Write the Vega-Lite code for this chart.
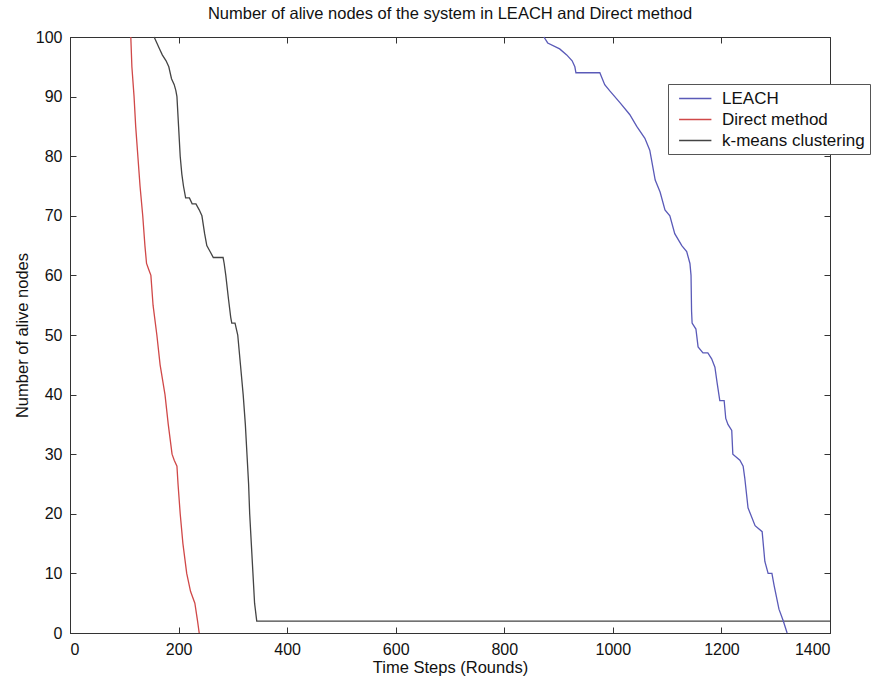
{
  "$schema": "https://vega.github.io/schema/vega-lite/v6.json",
  "width": 760,
  "height": 596,
  "autosize": "none",
  "padding": {"left": 70, "top": 37, "right": 46, "bottom": 48},
  "background": "white",
  "config": {
    "font": "Liberation Sans",
    "view": {"stroke": "#333", "strokeWidth": 1},
    "axis": {"grid": false, "domainColor": "#333", "tickColor": "#333", "labelColor": "#111", "titleColor": "#111", "labelFontSize": 16, "titleFontSize": 16.5, "titleFontWeight": "normal", "tickSize": -6, "labelFont": "Liberation Sans", "titleFont": "Liberation Sans", "format": "d"}
  },
  "title": {"text": "Number of alive nodes of the system in LEACH and Direct method", "fontSize": 16.5, "fontWeight": "normal", "font": "Liberation Sans", "color": "#111", "offset": 7, "anchor": "middle"},
  "data": {"values": [
    {"s":"Direct method","i":0,"x":112,"y":100},{"s":"Direct method","i":1,"x":114,"y":95},{"s":"Direct method","i":2,"x":118,"y":90},{"s":"Direct method","i":3,"x":121,"y":85},{"s":"Direct method","i":4,"x":125,"y":80},{"s":"Direct method","i":5,"x":129,"y":75},{"s":"Direct method","i":6,"x":134,"y":70},{"s":"Direct method","i":7,"x":138,"y":65},{"s":"Direct method","i":8,"x":141,"y":62},{"s":"Direct method","i":9,"x":145,"y":61},{"s":"Direct method","i":10,"x":149,"y":60},{"s":"Direct method","i":11,"x":153,"y":55},{"s":"Direct method","i":12,"x":160,"y":50},{"s":"Direct method","i":13,"x":166,"y":45},{"s":"Direct method","i":14,"x":175,"y":40},{"s":"Direct method","i":15,"x":181,"y":35},{"s":"Direct method","i":16,"x":188,"y":30},{"s":"Direct method","i":17,"x":192,"y":29},{"s":"Direct method","i":18,"x":197,"y":28},{"s":"Direct method","i":19,"x":199,"y":25},{"s":"Direct method","i":20,"x":203,"y":20},{"s":"Direct method","i":21,"x":208,"y":15},{"s":"Direct method","i":22,"x":215,"y":10},{"s":"Direct method","i":23,"x":222,"y":7},{"s":"Direct method","i":24,"x":230,"y":5},{"s":"Direct method","i":25,"x":235,"y":2},{"s":"Direct method","i":26,"x":238,"y":0},
    {"s":"k-means clustering","i":0,"x":155,"y":100},{"s":"k-means clustering","i":1,"x":160,"y":99},{"s":"k-means clustering","i":2,"x":165,"y":98},{"s":"k-means clustering","i":3,"x":170,"y":97},{"s":"k-means clustering","i":4,"x":177,"y":96},{"s":"k-means clustering","i":5,"x":182,"y":95},{"s":"k-means clustering","i":6,"x":187,"y":93},{"s":"k-means clustering","i":7,"x":192,"y":92},{"s":"k-means clustering","i":8,"x":195,"y":91},{"s":"k-means clustering","i":9,"x":197,"y":90},{"s":"k-means clustering","i":10,"x":200,"y":85},{"s":"k-means clustering","i":11,"x":203,"y":80},{"s":"k-means clustering","i":12,"x":206,"y":77},{"s":"k-means clustering","i":13,"x":209,"y":75},{"s":"k-means clustering","i":14,"x":213,"y":73},{"s":"k-means clustering","i":15,"x":220,"y":73},{"s":"k-means clustering","i":16,"x":225,"y":72},{"s":"k-means clustering","i":17,"x":232,"y":72},{"s":"k-means clustering","i":18,"x":238,"y":71},{"s":"k-means clustering","i":19,"x":243,"y":70},{"s":"k-means clustering","i":20,"x":248,"y":67},{"s":"k-means clustering","i":21,"x":252,"y":65},{"s":"k-means clustering","i":22,"x":258,"y":64},{"s":"k-means clustering","i":23,"x":264,"y":63},{"s":"k-means clustering","i":24,"x":282,"y":63},{"s":"k-means clustering","i":25,"x":284,"y":62},{"s":"k-means clustering","i":26,"x":287,"y":60},{"s":"k-means clustering","i":27,"x":292,"y":56},{"s":"k-means clustering","i":28,"x":296,"y":53},{"s":"k-means clustering","i":29,"x":298,"y":52},{"s":"k-means clustering","i":30,"x":304,"y":52},{"s":"k-means clustering","i":31,"x":309,"y":50},{"s":"k-means clustering","i":32,"x":314,"y":45},{"s":"k-means clustering","i":33,"x":319,"y":40},{"s":"k-means clustering","i":34,"x":323,"y":35},{"s":"k-means clustering","i":35,"x":326,"y":30},{"s":"k-means clustering","i":36,"x":329,"y":25},{"s":"k-means clustering","i":37,"x":331,"y":20},{"s":"k-means clustering","i":38,"x":334,"y":15},{"s":"k-means clustering","i":39,"x":337,"y":10},{"s":"k-means clustering","i":40,"x":340,"y":5},{"s":"k-means clustering","i":41,"x":344,"y":2},{"s":"k-means clustering","i":42,"x":1400,"y":2},
    {"s":"LEACH","i":0,"x":873,"y":100},{"s":"LEACH","i":1,"x":880,"y":99},{"s":"LEACH","i":2,"x":902,"y":98},{"s":"LEACH","i":3,"x":915,"y":97},{"s":"LEACH","i":4,"x":925,"y":96},{"s":"LEACH","i":5,"x":930,"y":95},{"s":"LEACH","i":6,"x":932,"y":94},{"s":"LEACH","i":7,"x":976,"y":94},{"s":"LEACH","i":8,"x":985,"y":92},{"s":"LEACH","i":9,"x":994,"y":91},{"s":"LEACH","i":10,"x":1013,"y":89},{"s":"LEACH","i":11,"x":1031,"y":87},{"s":"LEACH","i":12,"x":1044,"y":85},{"s":"LEACH","i":13,"x":1059,"y":83},{"s":"LEACH","i":14,"x":1068,"y":81},{"s":"LEACH","i":15,"x":1072,"y":79},{"s":"LEACH","i":16,"x":1078,"y":76},{"s":"LEACH","i":17,"x":1087,"y":74},{"s":"LEACH","i":18,"x":1096,"y":71},{"s":"LEACH","i":19,"x":1105,"y":70},{"s":"LEACH","i":20,"x":1114,"y":67},{"s":"LEACH","i":21,"x":1127,"y":65},{"s":"LEACH","i":22,"x":1136,"y":64},{"s":"LEACH","i":23,"x":1142,"y":62},{"s":"LEACH","i":24,"x":1144,"y":60},{"s":"LEACH","i":25,"x":1145,"y":54},{"s":"LEACH","i":26,"x":1146,"y":52},{"s":"LEACH","i":27,"x":1153,"y":51},{"s":"LEACH","i":28,"x":1157,"y":48},{"s":"LEACH","i":29,"x":1166,"y":47},{"s":"LEACH","i":30,"x":1175,"y":47},{"s":"LEACH","i":31,"x":1182,"y":46},{"s":"LEACH","i":32,"x":1188,"y":44.6},{"s":"LEACH","i":33,"x":1192,"y":42},{"s":"LEACH","i":34,"x":1197,"y":39},{"s":"LEACH","i":35,"x":1205,"y":39},{"s":"LEACH","i":36,"x":1208,"y":36},{"s":"LEACH","i":37,"x":1212,"y":35},{"s":"LEACH","i":38,"x":1219,"y":34},{"s":"LEACH","i":39,"x":1221,"y":30},{"s":"LEACH","i":40,"x":1234,"y":29},{"s":"LEACH","i":41,"x":1240,"y":28},{"s":"LEACH","i":42,"x":1243,"y":26},{"s":"LEACH","i":43,"x":1249,"y":21},{"s":"LEACH","i":44,"x":1262,"y":18},{"s":"LEACH","i":45,"x":1275,"y":17},{"s":"LEACH","i":46,"x":1280,"y":12},{"s":"LEACH","i":47,"x":1286,"y":10},{"s":"LEACH","i":48,"x":1293,"y":10},{"s":"LEACH","i":49,"x":1297,"y":8},{"s":"LEACH","i":50,"x":1306,"y":4},{"s":"LEACH","i":51,"x":1314,"y":2},{"s":"LEACH","i":52,"x":1321,"y":0}
  ]},
  "layer": [
    {
      "mark": {"type": "line", "strokeWidth": 1.3},
      "encoding": {
        "x": {"field": "x", "type": "quantitative", "scale": {"domain": [0, 1400], "nice": false}, "axis": {"values": [0,200,400,600,800,1000,1200,1400], "title": "Time Steps (Rounds)", "labelPadding": 14, "titlePadding": 2}},
        "y": {"field": "y", "type": "quantitative", "scale": {"domain": [0, 100], "nice": false}, "axis": {"values": [0,10,20,30,40,50,60,70,80,90,100], "title": "Number of alive nodes", "labelPadding": 14, "titlePadding": 5}},
        "order": {"field": "i", "type": "quantitative"},
        "color": {"field": "s", "type": "nominal", "scale": {"domain": ["LEACH", "Direct method", "k-means clustering"], "range": ["#5a5ab8", "#d04848", "#444444"]},
          "legend": {"title": null, "orient": "none", "legendX": 598, "legendY": 47, "symbolType": "M-0.4,0H3.4", "symbolSize": 289, "symbolStrokeWidth": 1.3, "symbolFillColor": "transparent", "labelFontSize": 17, "labelFont": "Liberation Sans", "labelColor": "#111", "fillColor": "white", "strokeColor": "#555", "padding": 5, "rowPadding": 3, "labelOffset": 30, "labelLimit": 300}}
      }
    },
    {
      "mark": {"type": "line", "opacity": 0},
      "encoding": {
        "x": {"field": "x", "type": "quantitative", "axis": {"orient": "top", "values": [0,200,400,600,800,1000,1200,1400], "labels": false, "title": null, "domain": false}},
        "y": {"field": "y", "type": "quantitative", "axis": {"orient": "right", "values": [0,10,20,30,40,50,60,70,80,90,100], "labels": false, "title": null, "domain": false}},
        "detail": {"field": "s"},
        "order": {"field": "i", "type": "quantitative"}
      }
    }
  ],
  "resolve": {"axis": {"x": "independent", "y": "independent"}}
}
